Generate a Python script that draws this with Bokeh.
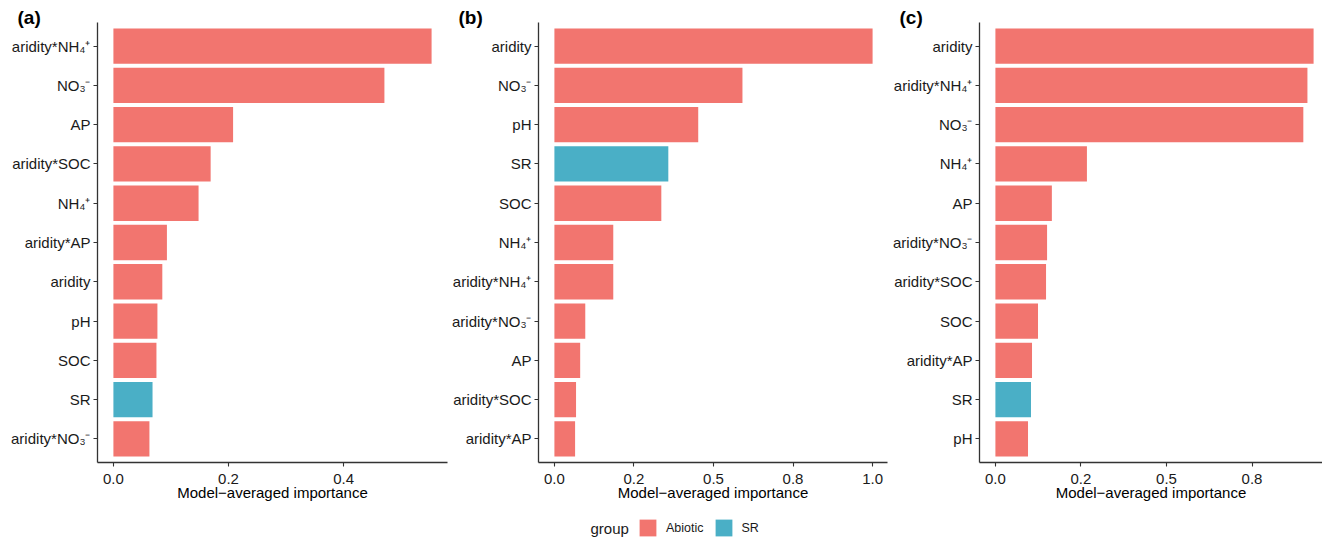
from bokeh.plotting import figure
from bokeh.models import ColumnDataSource, FixedTicker, Range1d, Label, Legend, LegendItem
from bokeh.layouts import row, column
from bokeh.embed import file_html
from bokeh.resources import INLINE

# ---------------- data ----------------
a_vars = ["aridity*NH₄⁺", "NO₃⁻", "AP", "aridity*SOC", "NH₄⁺", "aridity*AP",
          "aridity", "pH", "SOC", "SR", "aridity*NO₃⁻"]
a_vals = [0.553, 0.471, 0.208, 0.169, 0.148, 0.093, 0.085, 0.0765, 0.0748, 0.068, 0.0626]
a_groups = ["Abiotic", "Abiotic", "Abiotic", "Abiotic", "Abiotic", "Abiotic",
            "Abiotic", "Abiotic", "Abiotic", "SR", "Abiotic"]
a_ticks = [0.0, 0.2, 0.4]
a_tick_labels = ["0.0", "0.2", "0.4"]

b_vars = ["aridity", "NO₃⁻", "pH", "SR", "SOC", "NH₄⁺", "aridity*NH₄⁺",
          "aridity*NO₃⁻", "AP", "aridity*SOC", "aridity*AP"]
b_vals = [1.0, 0.591, 0.452, 0.358, 0.336, 0.185, 0.185, 0.097, 0.081, 0.068, 0.065]
b_groups = ["Abiotic", "Abiotic", "Abiotic", "SR", "Abiotic", "Abiotic", "Abiotic",
            "Abiotic", "Abiotic", "Abiotic", "Abiotic"]
b_ticks = [0.0, 0.25, 0.5, 0.75, 1.0]
b_tick_labels = ["0.0", "0.2", "0.5", "0.8", "1.0"]

c_vars = ["aridity", "aridity*NH₄⁺", "NO₃⁻", "NH₄⁺", "AP", "aridity*NO₃⁻",
          "aridity*SOC", "SOC", "aridity*AP", "SR", "pH"]
c_vals = [0.930, 0.912, 0.900, 0.2675, 0.165, 0.151, 0.148, 0.1245, 0.107, 0.104, 0.0953]
c_groups = ["Abiotic", "Abiotic", "Abiotic", "Abiotic", "Abiotic", "Abiotic",
            "Abiotic", "Abiotic", "Abiotic", "SR", "Abiotic"]
c_ticks = [0.0, 0.25, 0.5, 0.75]
c_tick_labels = ["0.0", "0.2", "0.5", "0.8"]

group_names = ["Abiotic", "SR"]
group_colors = ["#F2756F", "#4AAFC6"]
legend_title = "group"
color_map = dict(zip(group_names, group_colors))

FONT = "Liberation Sans"
H = 510
TOP = 22
BOTTOM = 48
FULL_FRAME = 350


def make_panel(tag, names, vals, groups, ticks, tick_labels, width, left, right):
    n = len(names)
    ypos = [n - i for i in range(n)]
    src = ColumnDataSource(dict(y=ypos, val=vals, name=names, group=groups,
                                color=[color_map[g] for g in groups]))
    vmax = max(vals)
    lo = -0.05 * vmax
    full = 1.1 * vmax
    frame_w = width - left - right
    hi = lo + full * frame_w / FULL_FRAME
    p = figure(width=width, height=H, output_backend="svg", toolbar_location=None,
               x_range=Range1d(lo, hi), y_range=Range1d(0.4, n + 0.6),
               min_border_left=left, min_border_right=right,
               min_border_top=TOP, min_border_bottom=BOTTOM)
    p.outline_line_color = None
    p.xgrid.visible = False
    p.ygrid.visible = False
    r = p.hbar(y="y", left=0, right="val", height=0.9, fill_color="color",
               line_color=None, source=src)

    xa = p.xaxis[0]
    ya = p.yaxis[0]
    xa.ticker = FixedTicker(ticks=ticks)
    xa.major_label_overrides = {t: l for t, l in zip(ticks, tick_labels)}
    ya.ticker = FixedTicker(ticks=ypos)
    ya.major_label_overrides = {y: nm for y, nm in zip(ypos, names)}
    for ax in (xa, ya):
        ax.axis_line_color = "#333333"
        ax.axis_line_width = 1.3
        ax.major_tick_line_color = "#333333"
        ax.major_tick_line_width = 1.1
        ax.major_tick_out = 4
        ax.major_tick_in = 0
        ax.minor_tick_line_color = None
        ax.major_label_text_font = FONT
        ax.major_label_text_font_size = "15px"
        ax.major_label_text_color = "#1A1A1A"
    ya.major_label_standoff = 3
    xa.major_label_standoff = 7
    xa.axis_label = "Model−averaged importance"
    xa.axis_label_text_font = FONT
    xa.axis_label_text_font_size = "15px"
    xa.axis_label_text_font_style = "normal"
    xa.axis_label_text_color = "#000000"
    xa.axis_label_standoff = -3

    p.title.text = tag
    p.title.align = "left"
    p.title.offset = -80
    p.title.standoff = -11
    p.title.text_font = FONT
    p.title.text_font_size = "19px"
    p.title.text_font_style = "bold"
    p.title.text_color = "#000000"
    return p, r, src


pa, ra, sa = make_panel("(a)", a_vars, a_vals, a_groups, a_ticks, a_tick_labels, 448, 97, 1)
pb, rb, sb = make_panel("(b)", b_vars, b_vals, b_groups, b_ticks, b_tick_labels, 440, 90, 1)
pc, rc, sc = make_panel("(c)", c_vars, c_vals, c_groups, c_ticks, c_tick_labels, 434, 91, 0)

# ---------------- legend strip ----------------
LW, LH = 1322, 30
legf = figure(width=LW, height=LH, output_backend="svg", toolbar_location=None,
              x_range=Range1d(0, LW), y_range=Range1d(0, LH),
              x_axis_location=None, y_axis_location=None,
              min_border_left=0, min_border_right=0, min_border_top=0, min_border_bottom=0)
legf.outline_line_color = None
legf.xgrid.visible = False
legf.ygrid.visible = False
lsrc = ColumnDataSource(dict(y=[0] * len(group_names), group=group_names, color=group_colors))
lr = legf.hbar(y="y", left=0, right=0, height=0, fill_color="color", line_color=None, source=lsrc)
items = [LegendItem(label=g, renderers=[lr], index=i) for i, g in enumerate(group_names)]
leg = Legend(items=items, orientation="horizontal",
             glyph_width=21, glyph_height=21, label_standoff=8, spacing=9,
             padding=0, margin=0, border_line_color=None, background_fill_alpha=0,
             label_text_font=FONT, label_text_font_size="12.5px", label_text_color="#1A1A1A",
             location=(637, 2))
legf.add_layout(leg, "center")
legf.add_layout(Label(x=590, y=12.5, x_units="screen", y_units="screen", text=legend_title,
                      text_font=FONT, text_font_size="15px", text_color="#1A1A1A",
                      text_baseline="middle", text_align="left"))

layout = column(row(pa, pb, pc, spacing=0), legf, spacing=0)
open("out.html", "w").write(file_html(layout, INLINE))
